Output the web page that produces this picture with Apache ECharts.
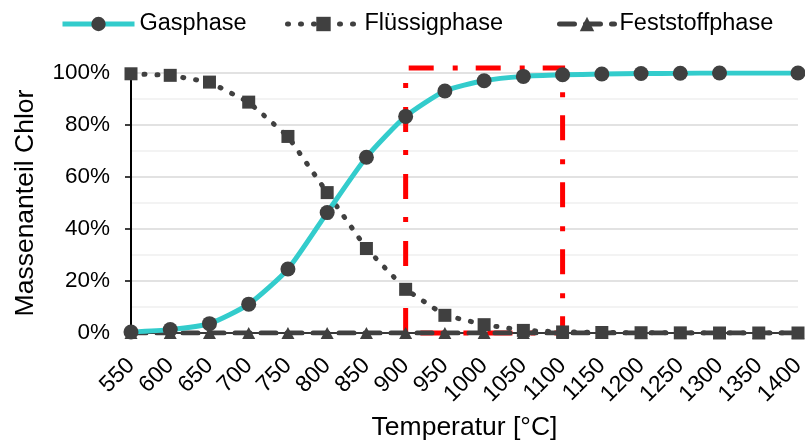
<!DOCTYPE html>
<html>
<head>
<meta charset="utf-8">
<script src="https://cdn.jsdelivr.net/npm/echarts@6/dist/echarts.min.js"></script>
<style>html,body{margin:0;padding:0;background:#fff;}#c{width:805px;height:444px;}</style>
</head>
<body>
<div id="c"></div>
<script>
const temperatures = ['550','600','650','700','750','800','850','900','950','1000','1050','1100','1150','1200','1250','1300','1350','1400'];
const gasphase = [0.4, 1.3, 3.6, 11.1, 24.6, 46.3, 67.6, 83.3, 93.1, 97.0, 98.7, 99.3, 99.6, 99.8, 99.9, 100, '-', 100];
const fluessigphase = [99.7, 99.1, 96.5, 88.8, 75.6, 54.0, 32.5, 16.8, 6.8, 3.2, 1.0, 0.4, 0.2, 0.1, 0.05, 0, 0, 0];
const feststoffphase = [0, 0, 0, 0, 0, 0, 0, 0, 0, 0, 0, 0, 0, 0, 0, 0, 0, 0];
const yTicks = [0, 20, 40, 60, 80, 100];
const markerBox = [['900', 0], ['900', 101.9], ['1100', 101.9], ['1100', 0], ['900', 0]];

const FONT = 'Liberation Sans';
const DARK = '#404040';
const chart = echarts.init(document.getElementById('c'), null, {renderer: 'canvas'});
const legendText = {fontFamily: FONT, fontSize: 23.5, color: '#000'};
chart.setOption({
  animation: false,
  backgroundColor: '#fff',
  legend: [
    {data: ['Gasphase'], left: 55, top: 7, itemWidth: 72, itemHeight: 18, textStyle: legendText, lineStyle: {width: 5}},
    {data: ['Flüssigphase'], left: 280, top: 7, itemWidth: 72, itemHeight: 18, textStyle: legendText, lineStyle: {width: 5}},
    {data: ['Feststoffphase'], left: 552, top: 7, itemWidth: 55, itemHeight: 18, textStyle: legendText, lineStyle: {width: 5}}
  ],
  grid: {left: 131, right: 7, top: 73, bottom: 111, containLabel: false, outerBoundsMode: 'none'},
  xAxis: {
    type: 'category',
    data: temperatures,
    boundaryGap: false,
    name: 'Temperatur [°C]',
    nameLocation: 'middle',
    nameGap: 81,
    nameTextStyle: {fontFamily: FONT, fontSize: 26.5, color: '#000'},
    axisLine: {lineStyle: {color: '#000', width: 1.5}},
    axisTick: {show: false},
    axisLabel: {rotate: 45, margin: 29, interval: 0, fontFamily: FONT, fontSize: 23, color: '#000'},
    splitLine: {show: false}
  },
  yAxis: {
    type: 'value',
    min: yTicks[0],
    max: yTicks[yTicks.length - 1],
    interval: 20,
    name: 'Massenanteil Chlor',
    nameLocation: 'middle',
    nameGap: 92,
    nameTextStyle: {fontFamily: FONT, fontSize: 26.5, color: '#000'},
    axisLine: {show: true, lineStyle: {color: '#000', width: 2}},
    axisTick: {show: true, length: 6, lineStyle: {color: '#000', width: 1.5}},
    axisLabel: {formatter: '{value}%', margin: 21, fontFamily: FONT, fontSize: 22.5, color: '#000'},
    splitLine: {show: true, lineStyle: {color: '#d9d9d9', width: 1.5}},
    minorTick: {show: false, splitNumber: 2},
    minorSplitLine: {show: true, lineStyle: {color: '#f0f0f0', width: 1.5}}
  },
  series: [
    {
      name: 'Rahmen',
      type: 'line',
      data: markerBox,
      showSymbol: false,
      symbol: 'none',
      silent: true,
      clip: false,
      z: 1,
      lineStyle: {color: '#ff0000', width: 5, type: [25, 19, 5, 18], cap: 'butt', join: 'miter'}
    },
    {
      name: 'Feststoffphase',
      type: 'line',
      data: feststoffphase,
      symbol: 'triangle',
      symbolSize: [13, 12],
      z: 2,
      itemStyle: {color: DARK},
      lineStyle: {color: DARK, width: 5, type: [15, 11], cap: 'round'}
    },
    {
      name: 'Flüssigphase',
      type: 'line',
      data: fluessigphase,
      symbol: 'rect',
      symbolSize: 13,
      z: 3,
      itemStyle: {color: DARK},
      lineStyle: {color: DARK, width: 5, type: [1, 12], cap: 'round'}
    },
    {
      name: 'Gasphase',
      type: 'line',
      data: gasphase,
      connectNulls: true,
      smooth: 0.2,
      symbol: 'circle',
      symbolSize: 15,
      z: 4,
      itemStyle: {color: DARK},
      lineStyle: {color: '#33cccc', width: 5}
    }
  ]
});
</script>
</body>
</html>
